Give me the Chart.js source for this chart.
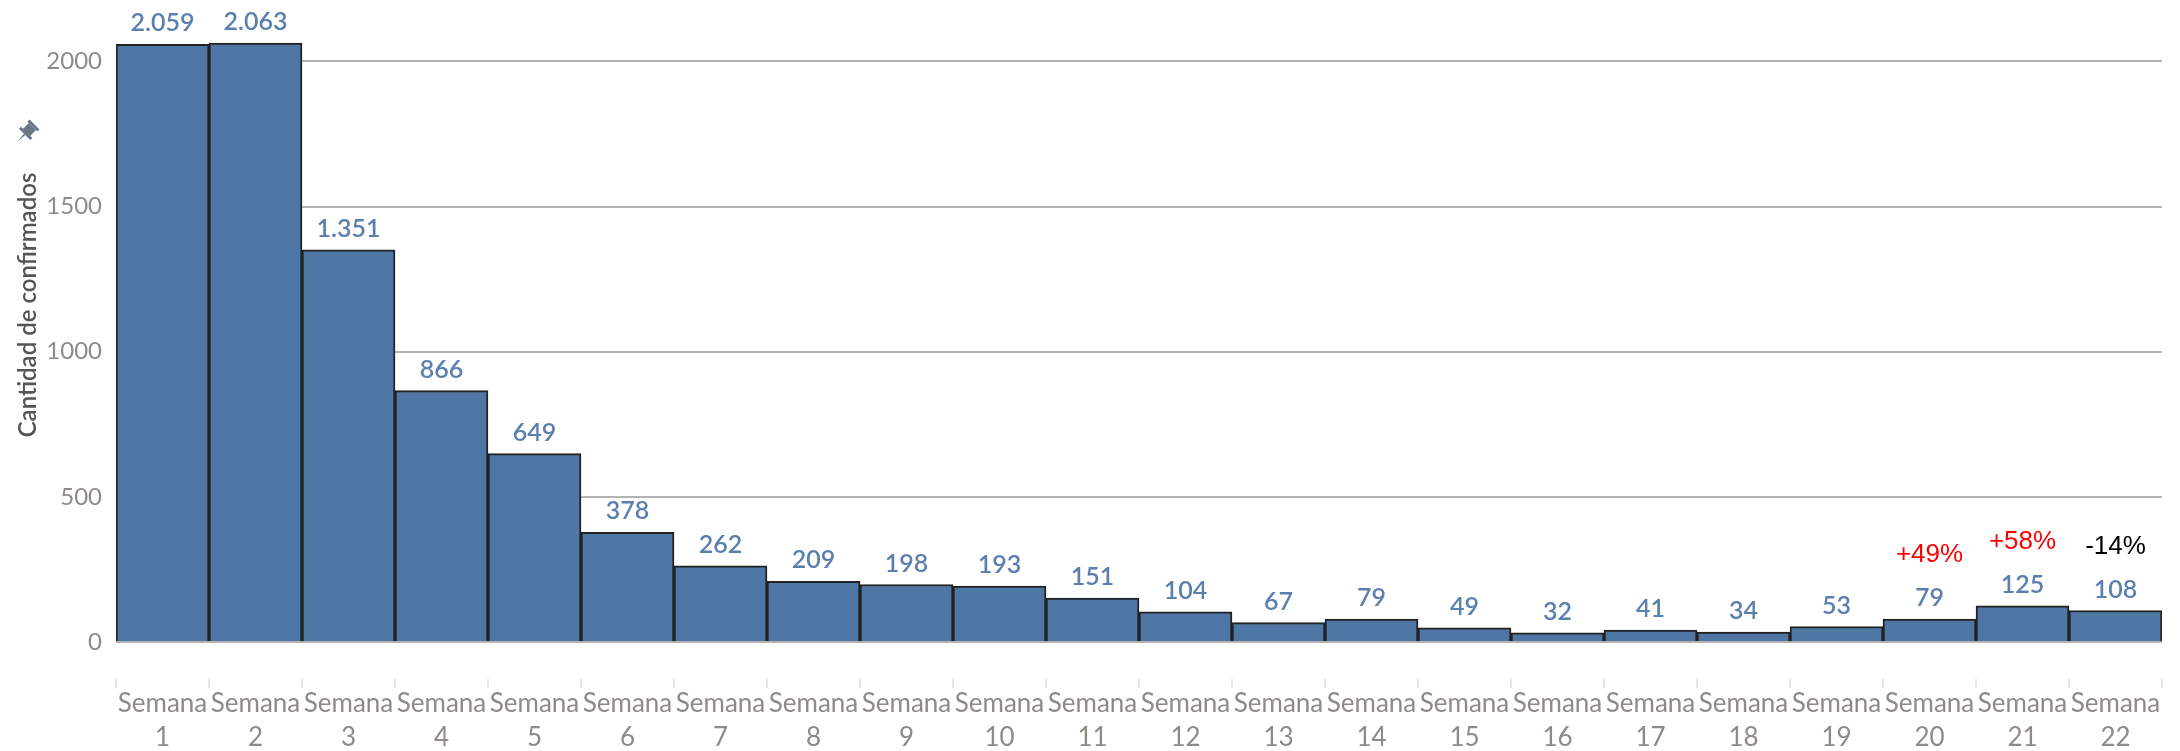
<!DOCTYPE html>
<html lang="es">
<head>
  <meta charset="UTF-8">
  <title>Confirmados por semana</title>
  <script src="https://cdn.jsdelivr.net/npm/chart.js"></script>
  <style>
    html, body { margin: 0; padding: 0; background: #fff; }
    #wrap { width: 2180px; height: 751px; }
  </style>
</head>
<body>
  <div id="wrap"><canvas id="weekChart" width="2180" height="751"></canvas></div>

  <script>
    // Data
    const weeks = ['1', '2', '3', '4', '5', '6', '7', '8', '9', '10', '11', '12', '13', '14', '15', '16', '17', '18', '19', '20', '21', '22'];
    const confirmados = [2059, 2063, 1351, 866, 649, 378, 262, 209, 198, 193, 151, 104, 67, 79, 49, 32, 41, 34, 53, 79, 125, 108];
    const changeNotes = ['', '', '', '', '', '', '', '', '', '', '', '', '', '', '', '', '', '', '', '+49%', '+58%', '-14%'];
    const noteColors = ['', '', '', '', '', '', '', '', '', '', '', '', '', '', '', '', '', '', '', '#ff0000', '#ff0000', '#000000'];
    const yTicks = [0, 500, 1000, 1500, 2000];

    const fmt = v => v.toLocaleString('de-DE');

    // value labels, % notes, axis title and category separators
    const extrasPlugin = {
      id: 'extras',
      afterDatasetsDraw(chart) {
        const ctx = chart.ctx;
        const meta = chart.getDatasetMeta(0);
        const x = chart.scales.x;
        const bottom = chart.chartArea.bottom;
        ctx.save();
        ctx.textAlign = 'center';
        meta.data.forEach((bar, i) => {
          ctx.font = '600 25px Lato';
          ctx.fillStyle = '#5b7fae';
          ctx.textBaseline = 'middle';
          ctx.fillText(fmt(confirmados[i]), bar.x, bar.y - 21);
          if (changeNotes[i]) {
            ctx.font = '26px "Liberation Sans"';
            ctx.fillStyle = noteColors[i];
            ctx.fillText(changeNotes[i], bar.x, bar.y - 64);
          }
        });

        // small separators between category labels
        ctx.strokeStyle = '#e6e6e6';
        ctx.lineWidth = 2;
        for (let i = 0; i <= weeks.length; i++) {
          const px = x.getPixelForValue(i - 0.5);
          ctx.beginPath();
          ctx.moveTo(px, bottom + 37);
          ctx.lineTo(px, bottom + 46);
          ctx.stroke();
        }
        ctx.restore();

        // y axis title
        ctx.save();
        ctx.translate(28, 305);
        ctx.rotate(-Math.PI / 2);
        ctx.font = '600 24px Lato';
        ctx.fillStyle = '#555';
        ctx.textAlign = 'center';
        ctx.textBaseline = 'middle';
        ctx.fillText('Cantidad de confirmados', 0, 0);
        ctx.restore();

        // pin icon
        ctx.save();
        ctx.translate(26, 133);
        ctx.rotate(Math.PI / 4);
        ctx.fillStyle = '#6b7785';
        ctx.fillRect(-5, -9, 10, 9);
        ctx.fillRect(-8, -1, 16, 3);
        ctx.beginPath();
        ctx.moveTo(-1, 2);
        ctx.lineTo(1, 2);
        ctx.lineTo(0, 12);
        ctx.closePath();
        ctx.fill();
        ctx.fillRect(-7, -12, 14, 3);
        ctx.restore();
      }
    };

    const ctx = document.getElementById('weekChart').getContext('2d');
    new Chart(ctx, {
      type: 'bar',
      data: {
        labels: weeks.map(w => ['Semana', w]),
        datasets: [{
          label: 'Cantidad de confirmados',
          data: confirmados,
          backgroundColor: '#4e77a5',
          borderColor: '#222',
          borderWidth: 2,
          barPercentage: 1,
          categoryPercentage: 1
        }]
      },
      options: {
        responsive: false,
        animation: false,
        layout: { padding: { top: 6, right: 18, left: 0, bottom: 0 } },
        plugins: {
          legend: { display: false },
          tooltip: { enabled: false }
        },
        scales: {
          x: {
            afterFit(scale) {
              scale.height = 109;
              scale.paddingLeft = 0;
              scale.paddingRight = 0;
            },
            grid: { display: false, drawTicks: false },
            border: { display: false },
            ticks: {
              color: '#8e8a86',
              font: { family: 'Lato', size: 26, lineHeight: 1.32 },
              padding: 44,
              maxRotation: 0,
              autoSkip: false
            }
          },
          y: {
            min: 0,
            max: 2114,
            afterFit(scale) { scale.width = 116; },
            afterBuildTicks(scale) { scale.ticks = yTicks.map(v => ({ value: v })); },
            grid: { color: '#b3b3b3', lineWidth: 2, drawTicks: false },
            border: { display: false },
            ticks: {
              color: '#8e8a86',
              font: { family: 'Lato', size: 24 },
              padding: 14,
              callback: v => String(v)
            }
          }
        }
      },
      plugins: [extrasPlugin]
    });
  </script>
</body>
</html>
